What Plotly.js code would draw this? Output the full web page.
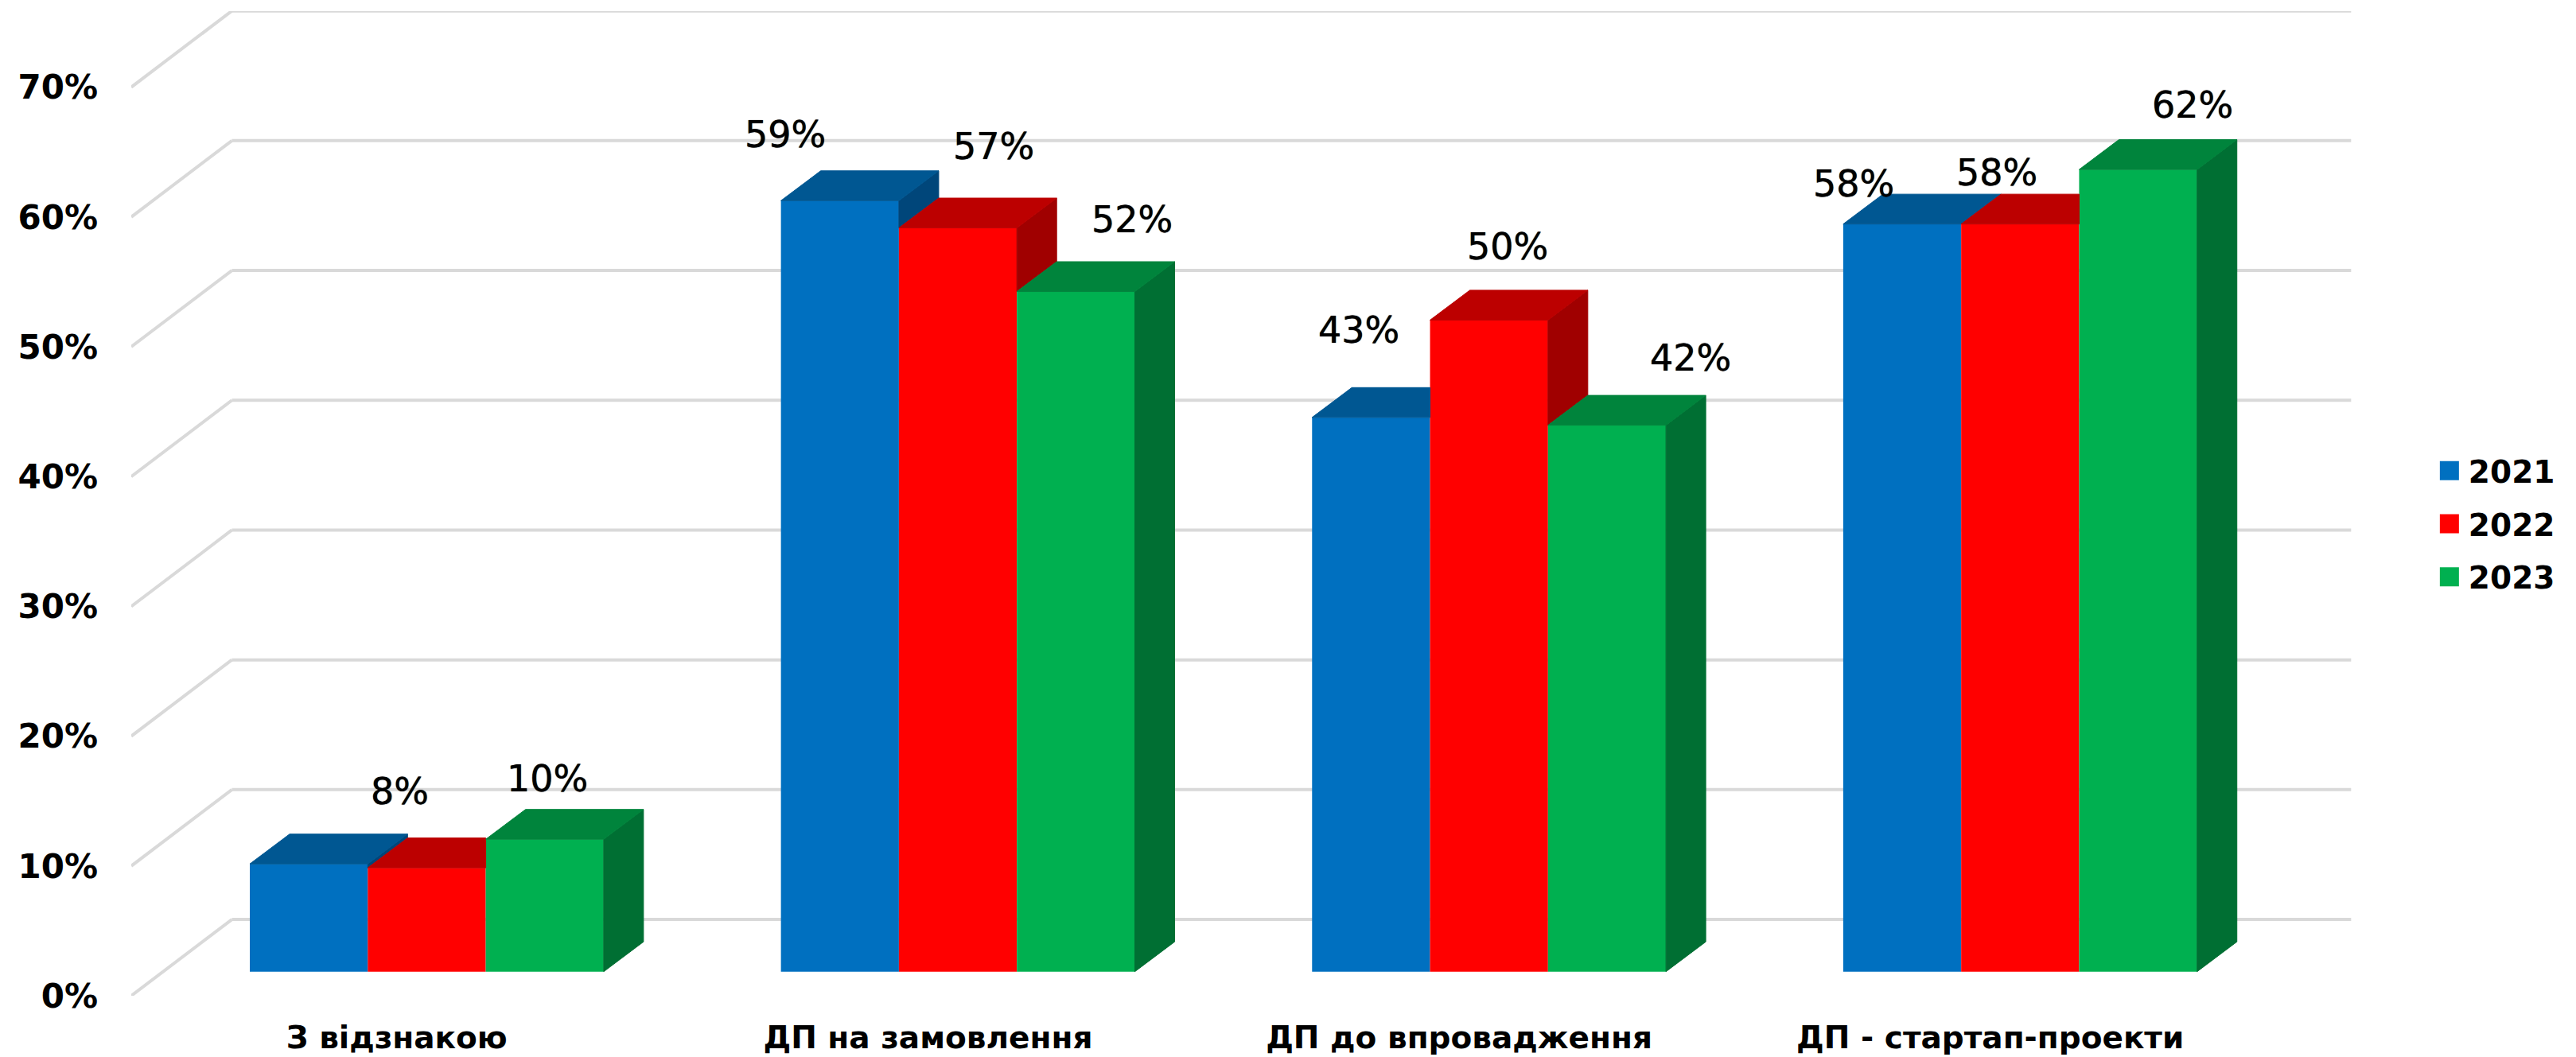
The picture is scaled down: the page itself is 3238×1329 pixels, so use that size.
<!DOCTYPE html>
<html>
<head>
<meta charset="utf-8">
<script src="https://cdn.plot.ly/plotly-3.0.1.min.js"></script>
<style>html,body{margin:0;padding:0;background:#fff}</style>
</head>
<body>
<div id="chart" style="width:3238px;height:1329px"></div>
<script>
// ---- data ----
const categories = ["З відзнакою", "ДП на замовлення", "ДП до впровадження", "ДП - стартап-проекти"];
const years = ["2021", "2022", "2023"];
const values2021 = [8.3, 59.4, 42.7, 57.6];
const values2022 = [8.0, 57.3, 50.2, 57.6];
const values2023 = [10.2, 52.4, 42.1, 61.8];
const labels2021 = ["", "59%", "43%", "58%"];
const labels2022 = ["8%", "57%", "50%", "58%"];
const labels2023 = ["10%", "52%", "42%", "62%"];
const yTicks = [0, 10, 20, 30, 40, 50, 60, 70];

// ---- style ----
const frontColors = ["#0070C0", "#FF0000", "#00B050"];
const topColors = ["#005792", "#BC0000", "#00843C"];
const sideColors = ["#00467A", "#A00000", "#006F33"];
const gridColor = "#D9D9D9";
const tickFont = {family: "DejaVu Sans", size: 42, color: "#000", weight: 700};
const catFont = {family: "DejaVu Sans", size: 39, color: "#000", weight: 700};
const dataFont = {family: "DejaVu Sans", size: 46, color: "#000", shadow: "0 0 1px #000"};
const legendFont = {family: "DejaVu Sans", size: 39, color: "#000", weight: 700};

// oblique projection, in axis units
const wallDepthX = 0.1895, wallDepthY = 5.88;
const barDepthX = 0.0749, barDepthY = 2.30;
const barBaseY = 1.857, barStart = 0.2232, barWidth = 0.2221;
const gridRight = 3.99;
// manual label offsets from each bar's front-top centre (px)
const labelDX = [[0, -69, -15, -61], [-34, 45, 23, -29], [3, 71, 105, 68]];
const labelDY = [[0, 83, 110, 51], [96, 103, 92, 65], [76, 91, 85, 81]];

const allValues = [values2021, values2022, values2023];
const allLabels = [labels2021, labels2022, labels2023];
const barX = s => categories.map((_, g) => g + barStart + (s + 0.5) * barWidth);

const traces = [], annotations = [];

// front faces
years.forEach((yr, s) => {
  traces.push({
    type: "bar", name: yr, x: barX(s), y: allValues[s],
    base: allValues[s].map(() => barBaseY), width: barWidth,
    marker: {color: frontColors[s], line: {width: 0}},
    legendgroup: yr, hoverinfo: "x+y"
  });
});

// top and side faces, derived from the same values
years.forEach((yr, s) => {
  const sx = [], sy = [], tx = [], ty = [];
  allValues[s].forEach((v, g) => {
    const xl = barX(s)[g] - barWidth / 2, xr = xl + barWidth;
    const top = v + barBaseY;
    const next = s < years.length - 1 ? allValues[s + 1][g] : null;
    // side: only the part not hidden by the neighbouring bar
    if (next === null || next < v) {
      const low = (next === null ? 0 : next) + barBaseY;
      sx.push(xr, xr + barDepthX, xr + barDepthX, xr, xr, null);
      sy.push(top, top + barDepthY, low + barDepthY, low, top, null);
    }
    // top: cut at the neighbour's front face when that bar is taller
    const xEnd = (next !== null && next > v) ? xr : xr + barDepthX;
    tx.push(xl, xl + barDepthX, xEnd, xr, xl, null);
    ty.push(top, top + barDepthY, top + barDepthY, top, top, null);
  });
  const poly = (x, y, c) => ({
    type: "scatter", mode: "lines", x, y, fill: "toself", fillcolor: c,
    line: {color: c, width: 1}, showlegend: false, hoverinfo: "skip", cliponaxis: false
  });
  traces.push(poly(sx, sy, sideColors[s]));
  traces.push(poly(tx, ty, topColors[s]));

  allLabels[s].forEach((t, g) => {
    if (!t) return;
    annotations.push({
      x: barX(s)[g], y: allValues[s][g] + barBaseY, text: t, showarrow: false,
      xanchor: "center", yanchor: "middle",
      xshift: labelDX[s][g], yshift: labelDY[s][g], font: dataFont
    });
  });
});

// walls
const shapes = [];
const gridLine = (x0, y0, x1, y1) => ({
  type: "line", layer: "below", xref: "x", yref: "y", x0, y0, x1, y1,
  line: {color: gridColor, width: 4}
});
yTicks.forEach(t => {
  shapes.push(gridLine(0, t, wallDepthX, t + wallDepthY));
  shapes.push(gridLine(wallDepthX, t + wallDepthY, gridRight + wallDepthX, t + wallDepthY));
});

const layout = {
  width: 3238, height: 1329,
  margin: {l: 165, r: 277, t: 14, b: 77, pad: 0},
  paper_bgcolor: "#fff", plot_bgcolor: "rgba(0,0,0,0)",
  barmode: "overlay", shapes, annotations,
  xaxis: {
    range: [0, 4.188], showgrid: false, zeroline: false, showline: false, ticks: "",
    tickmode: "array", tickvals: categories.map((_, g) => g + 0.5), ticktext: categories,
    tickfont: catFont, ticklabelstandoff: 26, tickangle: 0
  },
  yaxis: {
    range: [0, 75.86], showgrid: false, zeroline: false, showline: false, ticks: "",
    tickmode: "array", tickvals: yTicks, ticktext: yTicks.map(t => t + "%"),
    tickfont: tickFont, ticklabelstandoff: 41
  },
  legend: {
    x: 1.035, y: 0.479, xanchor: "left", yanchor: "middle", orientation: "v",
    font: legendFont, tracegroupgap: 13, bgcolor: "rgba(0,0,0,0)", borderwidth: 0
  },
  showlegend: true
};

Plotly.newPlot("chart", traces, layout, {displayModeBar: false, responsive: false}).then(gd => {
  gd.querySelectorAll(".legend .legendpoints path").forEach(p => {
    p.setAttribute("d", "M12,12H-12V-12H12Z");
  });
  gd.querySelectorAll(".legend text.legendtext").forEach(t => {
    t.setAttribute("x", parseFloat(t.getAttribute("x")) + 4);
  });
});
</script>
</body>
</html>
